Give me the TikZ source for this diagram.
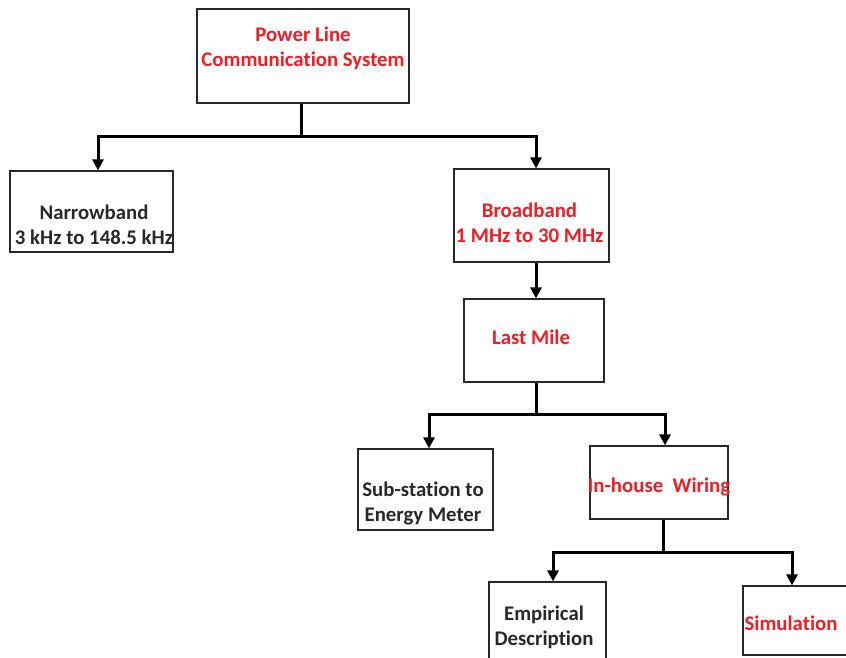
\documentclass[tikz,border=0pt]{standalone}
\usepackage{fontspec}
\setmainfont{Carlito}[Ligatures=NoCommon]
\usetikzlibrary{arrows.meta}

\definecolor{plcred}{RGB}{236,30,38}
\definecolor{plcgray}{RGB}{40,40,40}

\tikzset{
    block/.style={shape=rectangle, draw=plcgray, line width=1.2pt, inner sep=0pt},
    txt/.style={align=center, inner sep=0pt, text=plcgray, font=\fontsize{20.8}{25}\selectfont\bfseries},
    redtxt/.style={txt, text=plcred},
    stem/.style={line width=3pt, line join=miter},
    link/.style={stem, -{Triangle[length=11pt,width=11pt]}}
}

\begin{document}
\begin{tikzpicture}[x=1pt, y=-1pt]

    \useasboundingbox (0,0) rectangle (846,658);
    \clip (0,0) rectangle (846,658);

    \node[block, minimum width=212pt, minimum height=94pt,
        label={[redtxt, yshift=7.5pt]center:{Power Line\\Communication System}}] (Main) at (303,56) {};

    \node[block, minimum width=163pt, minimum height=81pt,
        label={[txt, xshift=2.5pt, yshift=-13pt]center:{Narrowband\\3 kHz to 148.5 kHz}}] (Narrow) at (91.5,211.5) {};

    \node[block, minimum width=155pt, minimum height=93pt,
        label={[redtxt, xshift=-2pt, yshift=-7.5pt]center:{Broadband\\1 MHz to 30 MHz}}] (Broad) at (531.5,215.5) {};

    \node[block, minimum width=140pt, minimum height=83pt,
        label={[redtxt, xshift=-3pt, yshift=3.5pt]center:{Last Mile}}] (LastMile) at (534,340.5) {};

    \node[block, minimum width=135pt, minimum height=81pt,
        label={[txt, xshift=-2.5pt, yshift=-13.5pt]center:{Sub-station to\\Energy Meter}}] (SubStation) at (425.5,489.5) {};

    \node[block, minimum width=138pt, minimum height=73pt,
        label={[redtxt, yshift=-4.5pt]center:{In-house\ \ Wiring}}] (InHouse) at (659,482.5) {};

    \node[block, minimum width=117pt, minimum height=90pt,
        label={[txt, xshift=-3.5pt]center:{Empirical\\Description}}] (Empirical) at (547.5,627) {};

    \node[block, minimum width=117pt, minimum height=69pt,
        label={[redtxt, xshift=-10.5pt, yshift=-2.5pt]center:{Simulation}}] (Simulation) at (801.5,620.5) {};

    \coordinate (MainJ) at (301,137);
    \coordinate (LastMileJ) at (536,414);
    \coordinate (InHouseJ) at (663,552);

    \draw[stem] (MainJ |- Main.south) -- (MainJ);
    \draw[link] (MainJ) -| ([xshift=6.5pt]Narrow.north);
    \draw[link] (MainJ) -| ([xshift=4.5pt]Broad.north);

    \draw[link] ([xshift=4.5pt]Broad.south) -- ([xshift=2pt]LastMile.north);

    \draw[stem] (LastMileJ |- LastMile.south) -- (LastMileJ);
    \draw[link] (LastMileJ) -| ([xshift=3.5pt]SubStation.north);
    \draw[link] (LastMileJ) -| ([xshift=6pt]InHouse.north);

    \draw[stem] (InHouseJ |- InHouse.south) -- (InHouseJ);
    \draw[link] (InHouseJ) -| ([xshift=5.5pt]Empirical.north);
    \draw[link] (InHouseJ) -| ([xshift=-9.5pt]Simulation.north);

\end{tikzpicture}
\end{document}
